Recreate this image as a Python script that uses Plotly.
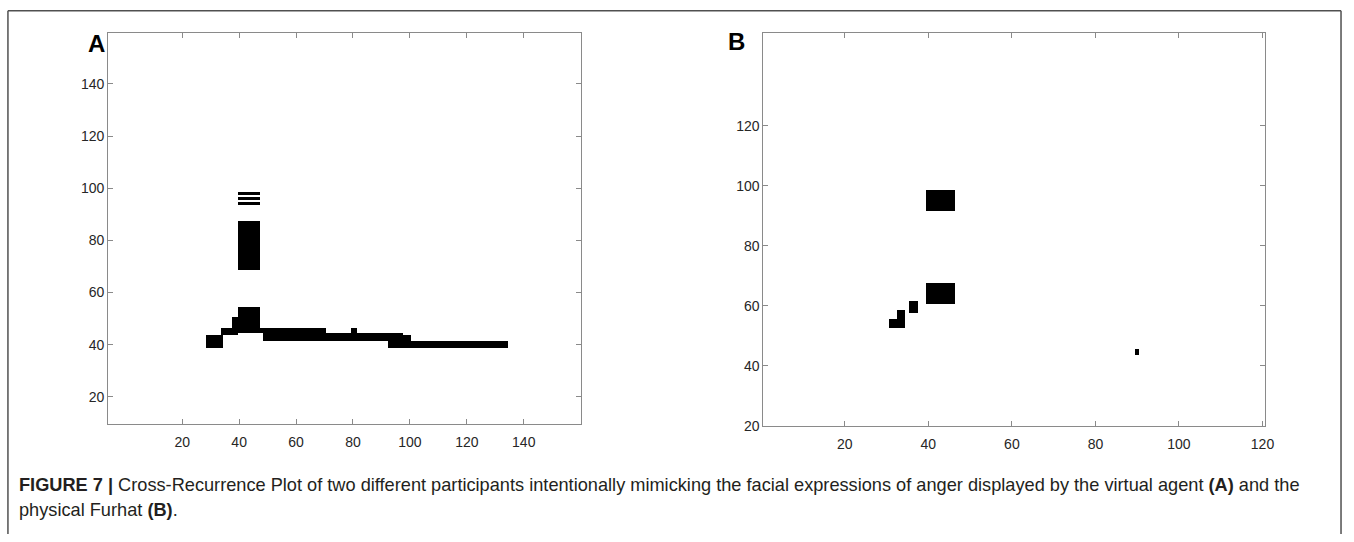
import plotly.graph_objects as go
import numpy as np

# ---------------- DATA ----------------
# Panel A: recurrent regions (cell index ranges, inclusive)
A_nx, A_ny = 160, 160
A_x_start = [40, 40, 40, 40, 29, 34, 38, 40, 48, 49, 71, 80, 93, 98, 101]
A_x_end   = [47, 47, 47, 47, 34, 39, 39, 47, 48, 70, 92, 81, 97, 100, 134]
A_y_start = [98, 96, 94, 69, 39, 44, 47, 45, 45, 42, 42, 45, 39, 39, 39]
A_y_end   = [98, 96, 94, 87, 43, 46, 50, 54, 46, 46, 44, 46, 44, 43, 41]

# Panel B: recurrent regions
B_nx, B_ny = 120, 152
B_x_start = [40, 40, 36, 33, 31, 90]
B_x_end   = [46, 46, 37, 34, 34, 90]
B_y_start = [92, 61, 58, 56, 53, 44]
B_y_end   = [98, 67, 61, 58, 55, 45]

A_ticks = [20, 40, 60, 80, 100, 120, 140]
B_ticks = [20, 40, 60, 80, 100, 120]

caption_1 = ("<b>FIGURE 7 |</b> Cross-Recurrence Plot of two different participants intentionally "
             "mimicking the facial expressions of anger displayed by the virtual agent <b>(A)</b> and the")
caption_2 = "physical Furhat <b>(B)</b>."


def build(nx, ny, xs, xe, ys, ye):
    z = np.zeros((ny, nx))
    for a, b, c, d in zip(xs, xe, ys, ye):
        z[c - 1:d, a - 1:b] = 1
    return z


zA = build(A_nx, A_ny, A_x_start, A_x_end, A_y_start, A_y_end)
zB = build(B_nx, B_ny, B_x_start, B_x_end, B_y_start, B_y_end)

W, H = 1354, 542
fig = go.Figure()
cs = [[0, "white"], [1, "black"]]
fig.add_trace(go.Heatmap(z=zA, x=list(range(1, A_nx + 1)), y=list(range(1, A_ny + 1)),
                         colorscale=cs, zmin=0, zmax=1, showscale=False,
                         hoverinfo="skip", xaxis="x", yaxis="y"))
fig.add_trace(go.Heatmap(z=zB, x=list(range(1, B_nx + 1)), y=list(range(1, B_ny + 1)),
                         colorscale=cs, zmin=0, zmax=1, showscale=False,
                         hoverinfo="skip", xaxis="x2", yaxis="y2"))

axcol = "#8a8a8a"
tickfont = dict(family="Liberation Sans, Arial", size=14, color="#262626")
common = dict(showline=True, linecolor=axcol, linewidth=1, mirror="ticks", ticks="inside",
              ticklen=5, tickcolor=axcol, showgrid=False, zeroline=False, tickfont=tickfont)


def px_x(p):
    return p / W


def px_y(p):
    return 1 - p / H


fig.update_layout(
    width=W, height=H, margin=dict(l=0, r=0, t=0, b=0),
    paper_bgcolor="white", plot_bgcolor="white", showlegend=False,
    xaxis=dict(domain=[px_x(109), px_x(585)], range=[-6, 160], tickvals=A_ticks,
               anchor="y", ticklabelstandoff=6, **common),
    yaxis=dict(domain=[px_y(430), px_y(33)], range=[9.7, 159.7], tickvals=A_ticks,
               anchor="x", **common),
    xaxis2=dict(domain=[px_x(769), px_x(1274)], range=[0.5, B_nx + 0.5], tickvals=B_ticks,
                anchor="y2", ticklabelstandoff=6, **common),
    yaxis2=dict(domain=[px_y(432), px_y(33)], range=[20, 151.2], tickvals=B_ticks,
                anchor="x2", **common),
)

# outer frame (left, top, right sides; it continues below the visible page)
frame = dict(color="#505050", width=1.5)
fig.add_shape(type="line", xref="paper", yref="paper", x0=px_x(8), x1=px_x(8), y0=0, y1=px_y(11), line=frame)
fig.add_shape(type="line", xref="paper", yref="paper", x0=px_x(8), x1=px_x(1351), y0=px_y(11), y1=px_y(11), line=frame)
fig.add_shape(type="line", xref="paper", yref="paper", x0=px_x(1351), x1=px_x(1351), y0=0, y1=px_y(11), line=frame)

# panel letters
fig.add_annotation(x=px_x(97), y=px_y(44), xref="paper", yref="paper", text="<b>A</b>",
                   xanchor="center", yanchor="middle", showarrow=False,
                   font=dict(family="Liberation Sans, Arial", size=24, color="black"))
fig.add_annotation(x=px_x(742), y=px_y(42), xref="paper", yref="paper", text="<b>B</b>",
                   xanchor="center", yanchor="middle", showarrow=False,
                   font=dict(family="Liberation Sans, Arial", size=24, color="black"))

capfont = dict(family="Liberation Sans, Arial", size=18.2, color="#231f20")
fig.add_annotation(x=px_x(17), y=px_y(492), xref="paper", yref="paper", text=caption_1,
                   showarrow=False, xanchor="left", yanchor="middle", font=capfont, align="left")
fig.add_annotation(x=px_x(17), y=px_y(518), xref="paper", yref="paper", text=caption_2,
                   showarrow=False, xanchor="left", yanchor="middle", font=capfont, align="left")

fig.write_html("out.html", config={"displayModeBar": False},
               post_script="document.body.style.margin='0';document.body.style.overflow='hidden';")
